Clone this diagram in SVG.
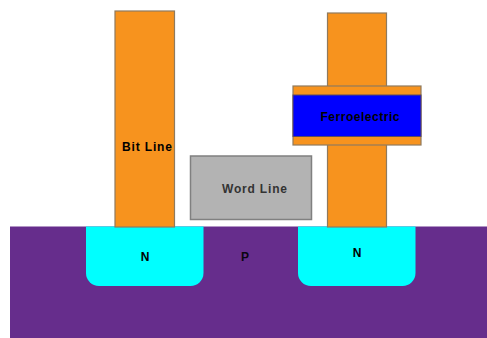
<svg xmlns="http://www.w3.org/2000/svg" width="487" height="338" viewBox="0 0 487 338">
<style>
.m{fill:#f7931e;stroke:#8f7a5e;stroke-width:1.2}
.n{fill:#00ffff}
text{font-family:"Liberation Sans",Arial,sans-serif;font-size:12px;font-weight:bold;text-anchor:middle;fill:#000}
</style>
<rect width="487" height="338" fill="#fff"/>
<g id="substrate"><rect x="10" y="226.5" width="477" height="111.5" fill="#662d8c"/><text x="245" y="260.500" fill-opacity="0.9">P</text></g>
<g id="source"><path class="n" d="M86 226.500H203.500V273A13 13 0 0 1 190.500 286H99A13 13 0 0 1 86 273Z"/><text x="145" y="260.500">N</text></g>
<g id="drain"><path class="n" d="M298 226.500H415.500V273A13 13 0 0 1 402.500 286H311A13 13 0 0 1 298 273Z"/><text x="357" y="256.500">N</text></g>
<g id="bit-line"><rect class="m" x="115" y="11" width="59.500" height="216"/><text x="147" y="151" textLength="50" lengthAdjust="spacing">Bit Line</text></g>
<g id="word-line"><rect x="190.500" y="156" width="121" height="63.500" fill="#b3b3b3" stroke="#808080" stroke-width="1.5"/><text x="254.500" y="193" textLength="65" lengthAdjust="spacing" style="fill:#333">Word Line</text></g>
<g id="drain-pillar"><rect class="m" x="327.500" y="13" width="59" height="214"/></g>
<g id="ferroelectric"><rect class="m" x="293" y="86" width="128" height="59"/><rect x="293" y="95" width="128" height="41.500" fill="#0000ff" stroke="#5c4a60" stroke-width="1"/><text x="360" y="121" textLength="79" lengthAdjust="spacing">Ferroelectric</text></g>
<g id="connectors"/>
</svg>
